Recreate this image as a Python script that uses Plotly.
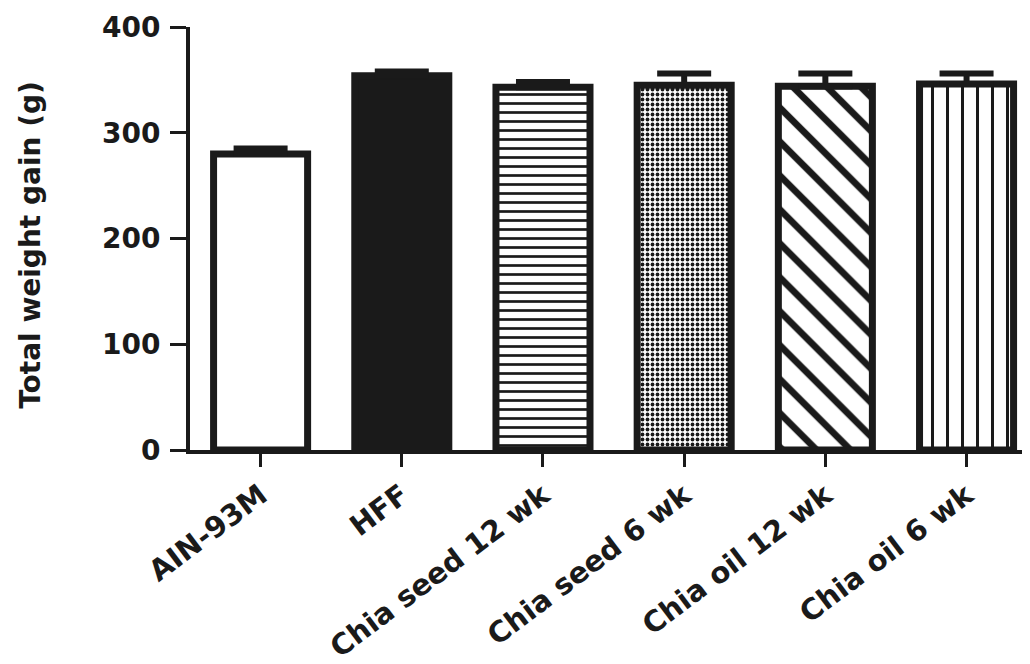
import plotly.graph_objects as go

categories = ["AIN-93M", "HFF", "Chia seed 12 wk", "Chia seed 6 wk", "Chia oil 12 wk", "Chia oil 6 wk"]
weight_gain = [280, 354, 343, 345, 344, 346]
sem = [5, 4, 5, 11, 12, 10]
y_ticks = [0, 100, 200, 300, 400]

INK = "#1a1a1a"
FONT = "DejaVu Sans, Arial, sans-serif"

fills = ["white", INK, "white", "white", "white", "white"]
shapes = ["", "", "-", ".", "\\", "|"]
sizes = [8, 8, 9, 5, 24, 15]
solids = [0.3, 0.3, 0.3, 0.45, 0.28, 0.2]

fig = go.Figure()
for i, cat in enumerate(categories):
    fig.add_trace(go.Bar(
        x=[cat],
        y=[weight_gain[i]],
        width=0.666,
        marker=dict(
            color=fills[i],
            line=dict(color=INK, width=7),
            pattern=dict(shape=shapes[i], size=sizes[i], solidity=solids[i],
                         fgcolor=INK, bgcolor="white", fgopacity=1,
                         fillmode="replace"),
        ),
        error_y=dict(type="data", symmetric=False, array=[sem[i]],
                     arrayminus=[0], color=INK, thickness=6, width=27),
        showlegend=False,
    ))

fig.update_layout(
    width=1030, height=664,
    barmode="overlay",
    margin=dict(l=182, r=0, t=19, b=222, autoexpand=False),
    paper_bgcolor="white", plot_bgcolor="white",
    font=dict(family=FONT, color=INK),
)
fig.update_xaxes(
    type="category",
    categoryorder="array", categoryarray=categories,
    range=[-0.5, 5.506],
    automargin=False,
    showline=True, linecolor=INK, linewidth=4,
    ticks="outside", ticklen=13, tickwidth=3, tickcolor=INK,
    tickangle=-37,
    tickfont=dict(family=FONT, size=29, color=INK, weight="bold"),
    showgrid=False, zeroline=False,
)
fig.update_yaxes(
    range=[0, 400],
    tickvals=y_ticks,
    automargin=False,
    showline=True, linecolor=INK, linewidth=4,
    ticks="outside", ticklen=16, tickwidth=3, tickcolor=INK,
    ticklabelstandoff=4,
    tickfont=dict(family=FONT, size=28, color=INK, weight="bold"),
    showgrid=False, zeroline=False,
)
fig.add_annotation(
    text="Total weight gain (g)", textangle=-90,
    xref="paper", yref="paper", x=0, y=0.485,
    xanchor="center", yanchor="middle", xshift=-159,
    showarrow=False,
    font=dict(family=FONT, size=28, color=INK, weight="bold"),
)

fig.write_html("out.html")
